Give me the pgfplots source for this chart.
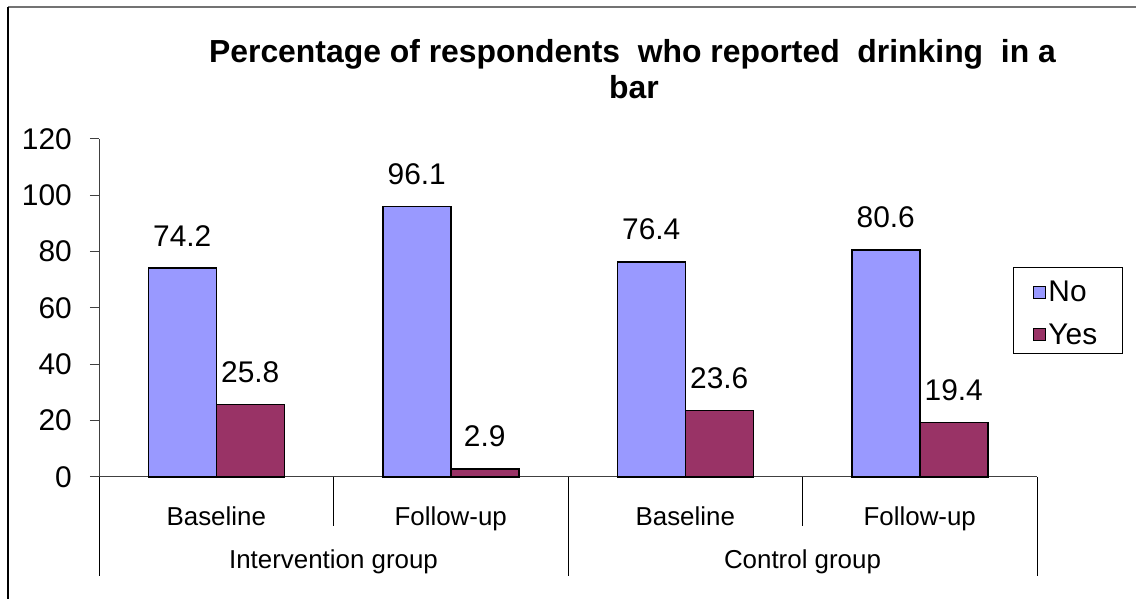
\documentclass[border=0pt]{standalone}
\usepackage{fontspec}
\setmainfont{Liberation Sans}
\usepackage{pgfplots}
\pgfplotsset{compat=1.18}
\definecolor{noc}{RGB}{153,153,255}
\definecolor{yesc}{RGB}{153,51,102}
\pgfplotsset{sqlegend/.style={legend image code/.code={\path (0bp,0bp); \draw[fill=##1,draw=black,line width=1bp] (18bp,-6bp) rectangle (30bp,6bp);}}}
\begin{document}
\begin{tikzpicture}[x=1bp,y=1bp]
\useasboundingbox (0,0) rectangle (1136,599);
\draw[black!55,line width=1.2bp] (8,592) -- (1136,592);
\draw[black,line width=1.2bp] (8,592) -- (8,0);
\node[anchor=base,font=\bfseries\fontsize{32}{38}\selectfont,inner sep=0pt] at (632.5,536.5) {Percentage of respondents\ \ who reported\ \ drinking\ \ in a};
\node[anchor=base,font=\bfseries\fontsize{32}{38}\selectfont,inner sep=0pt] at (634,500) {bar};
\begin{axis}[
  at={(99bp,122bp)}, anchor=south west,
  scale only axis, width=938bp, height=338bp,
  ymin=0, ymax=120, xmin=-0.5, xmax=3.5,
  ybar=0pt, bar width=68bp,
  axis x line*=bottom, axis y line*=left,
  axis line style={draw=black!75, line width=1bp},
  ytick={0,20,40,60,80,100,120},
  yticklabels={0,20,40,60,80,100,120},
  tick align=outside, major tick length=9bp,
  y tick style={draw=black!75, line width=1bp},
  xtick={0,1,2,3}, xticklabels={Baseline,Follow-up,Baseline,Follow-up},
  x tick style={draw=none},
  x tick label style={anchor=base, font=\fontsize{26}{30}\selectfont, yshift=-40bp, inner sep=0pt},
  y tick label style={font=\fontsize{30}{36}\selectfont, anchor=east, inner sep=0pt, xshift=-18bp},
  /pgf/number format/assume math mode=true,
  nodes near coords={\pgfmathprintnumber[fixed,fixed zerofill,precision=1]{\pgfplotspointmeta}},
  every node near coord/.append style={font=\fontsize{30}{36}\selectfont, inner sep=0pt, yshift=21bp, black},
  clip=false,
  legend style={at={(0.9744,0.6183)}, anchor=north west, draw=none, fill=none,
    font=\fontsize{30}{36}\selectfont, inner xsep=2bp, inner ysep=10bp, row sep=14.5bp,
    nodes={inner xsep=2bp, inner ysep=3bp}},
  legend cell align=left,
]
\addplot[fill=noc, draw=black, line width=1.5bp, sqlegend] coordinates {(0,74.2) (1,96.1) (2,76.4) (3,80.6)};
\addplot[fill=yesc, draw=black, line width=1.5bp, sqlegend] coordinates {(0,25.8) (1,2.9) (2,23.6) (3,19.4)};
\legend{No,Yes}
\draw[black, line width=1bp] (axis cs:-0.5,0) -- ([yshift=-99bp]axis cs:-0.5,0);
\draw[black, line width=1bp] (axis cs:0.5,0) -- ([yshift=-49bp]axis cs:0.5,0);
\draw[black, line width=1bp] (axis cs:1.5,0) -- ([yshift=-99bp]axis cs:1.5,0);
\draw[black, line width=1bp] (axis cs:2.5,0) -- ([yshift=-49bp]axis cs:2.5,0);
\draw[black, line width=1bp] (axis cs:3.5,0) -- ([yshift=-99bp]axis cs:3.5,0);
\node[anchor=base, font=\fontsize{26}{30}\selectfont, inner sep=0pt] at ([yshift=-92bp]axis cs:0.5,0) {Intervention group};
\node[anchor=base, font=\fontsize{26}{30}\selectfont, inner sep=0pt] at ([yshift=-92bp]axis cs:2.5,0) {Control group};
\end{axis}
\draw[black, line width=1bp] (1013,331) rectangle (1122,245);
\end{tikzpicture}
\end{document}
